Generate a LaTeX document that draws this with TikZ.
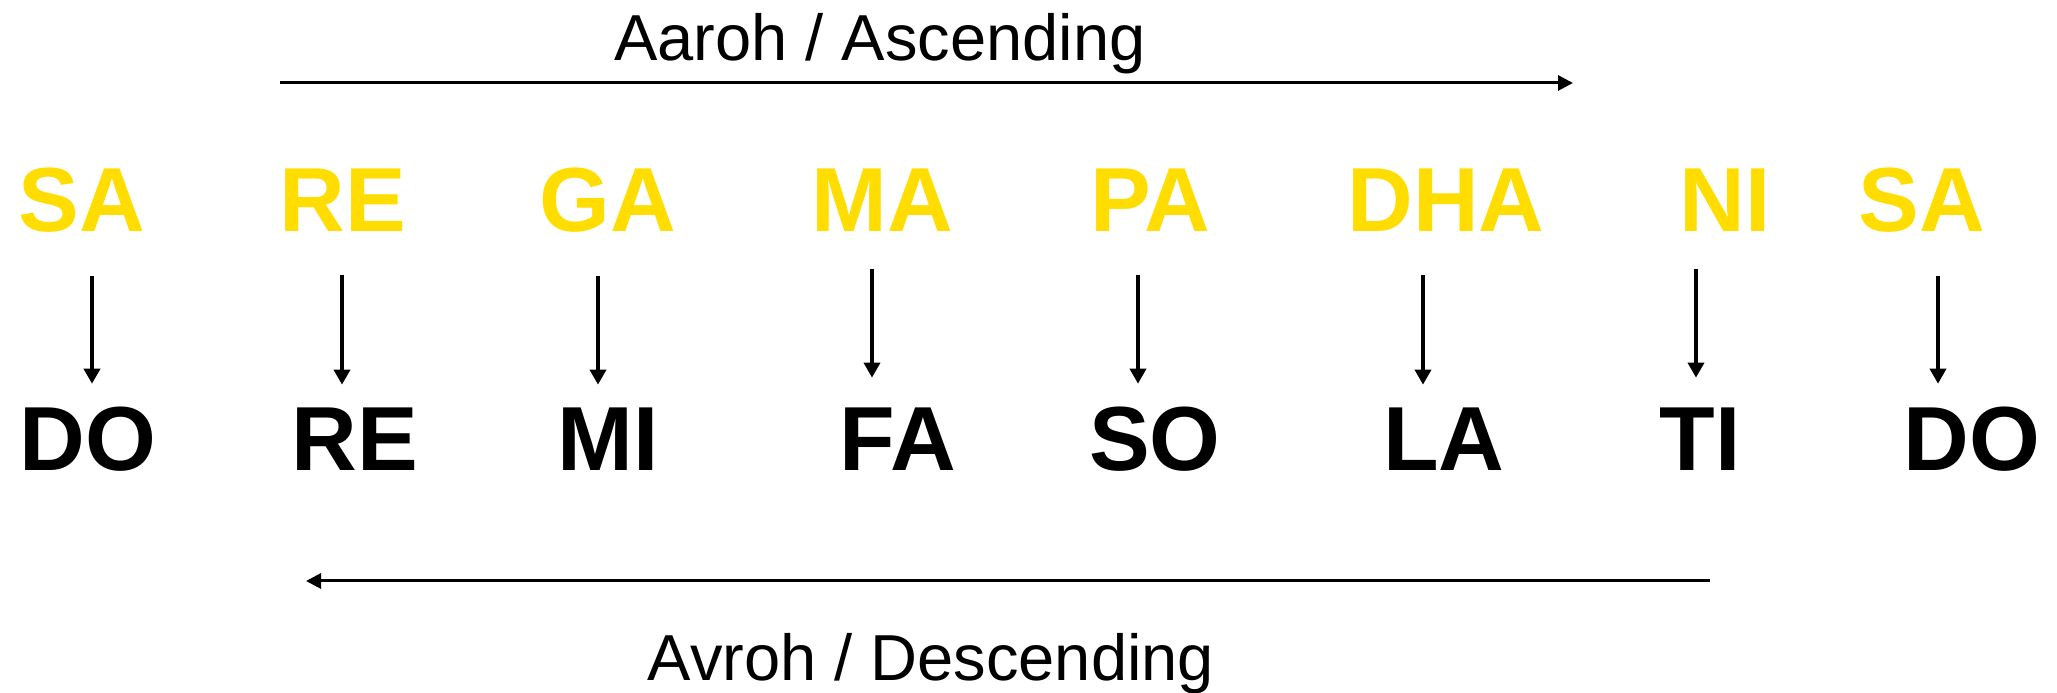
\documentclass[tikz,border=0pt]{standalone}
\usepackage{fontspec}
\setmainfont{Liberation Sans}
\usetikzlibrary{arrows.meta}
\definecolor{swaragold}{RGB}{255,221,0}

\begin{document}
\begin{tikzpicture}[
    swara/.style={anchor=base, inner sep=0pt, text=swaragold, font=\fontsize{25.9}{30}\selectfont\bfseries},
    solfa/.style={anchor=base, inner sep=0pt, text=black, font=\fontsize{25.9}{30}\selectfont\bfseries},
    caption/.style={anchor=base, inner sep=0pt, font=\fontsize{18.5}{22}\selectfont},
    maparrow/.style={-{Triangle[length=0.15cm,width=0.16cm]}, line width=0.035cm},
    flowarrow/.style={-{Triangle[length=0.15cm,width=0.15cm]}, line width=0.03cm}
]
\useasboundingbox (0,0) rectangle (20.57,6.93);

% Aaroh on top
\node[caption] (aaroh) at (8.80,6.32) {Aaroh / Ascending};
\coordinate (ascfrom) at (2.80,6.10);
\coordinate (ascto) at (15.73,6.10);
\draw[flowarrow] (ascfrom) -- (ascto);

% Swaras
\node[swara] (ysa) at (0.82,4.61) {SA};
\node[swara] (yre) at (3.43,4.61) {RE};
\node[swara] (yga) at (6.08,4.61) {GA};
\node[swara] (yma) at (8.82,4.61) {MA};
\node[swara] (ypa) at (11.50,4.61) {PA};
\node[swara] (ydha) at (14.46,4.61) {DHA};
\node[swara] (yni) at (17.25,4.61) {NI};
\node[swara] (ysa2) at (19.22,4.61) {SA};

% Solfege
\node[solfa] (bdo) at (0.88,2.22) {DO};
\node[solfa] (bre) at (3.55,2.22) {RE};
\node[solfa] (bmi) at (6.08,2.22) {MI};
\node[solfa] (bfa) at (8.98,2.22) {FA};
\node[solfa] (bso) at (11.55,2.22) {SO};
\node[solfa] (bla) at (14.44,2.22) {LA};
\node[solfa] (bti) at (17.00,2.22) {TI};
\node[solfa] (bdo2) at (19.72,2.22) {DO};

% Swara -> solfege
\foreach \up/\dn/\x/\s/\e in {ysa/bdo/0.92/0.42/0.23, yre/bre/3.42/0.42/0.23,
        yga/bmi/5.98/0.42/0.23, yma/bfa/8.72/0.36/0.30, ypa/bso/11.38/0.42/0.23,
        ydha/bla/14.23/0.42/0.23, yni/bti/16.96/0.36/0.30, ysa2/bdo2/19.38/0.42/0.23}
    \draw[maparrow, shorten <=\s cm, shorten >=\e cm] (\x,0 |- \up.south) -- (\x,0 |- \dn.north);

% Avroh at the bottom
\coordinate (descfrom) at (17.10,1.12);
\coordinate (descto) at (3.06,1.12);
\draw[flowarrow] (descfrom) -- (descto);
\node[caption] (avroh) at (9.31,0.12) {Avroh / Descending};
\end{tikzpicture}
\end{document}
